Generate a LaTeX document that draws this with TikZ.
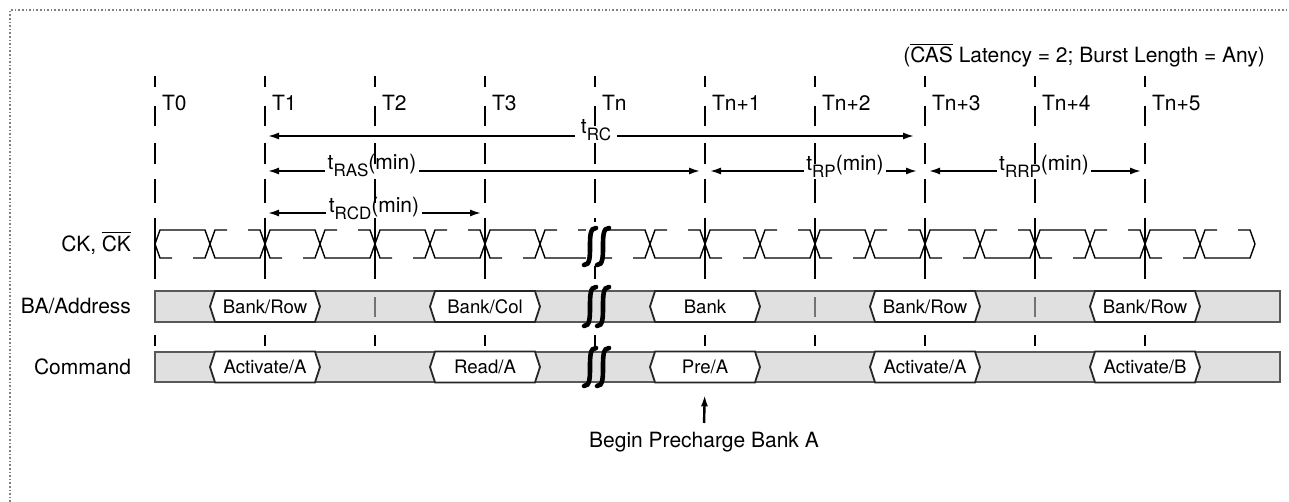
\documentclass[tikz,border=0pt]{standalone}
\usepackage{fontspec}
\setmainfont{TeX Gyre Heros}
\usetikzlibrary{arrows.meta}
\usetikzlibrary{shapes.symbols}
\usetikzlibrary{calc}
\tikzset{l/.style={font=\fontsize{10.5}{12}\selectfont}}
\tikzset{m/.style={font=\fontsize{9.3}{10}\selectfont}}
\tikzset{tick/.style={line width=0.8pt}}
\tikzset{wave/.style={line width=0.7pt}}
\tikzset{dim/.style={line width=1.2pt}}
\tikzset{dimlbl/.style={l,inner sep=1pt}}
\tikzset{row/.style={fill=black!12,draw=black!65,line width=1pt}}
\tikzset{bus/.style={m,shape=signal,signal to=west and east,signal pointer angle=144,
  draw=black!85,fill=white,line width=0.9pt,minimum width=55pt,minimum height=15.5pt,inner sep=0pt}}
\tikzset{squig/.style={line width=2.3pt,line cap=round}}
\newcommand{\ovl}[1]{$\overline{\mbox{#1}}$}
\newcommand{\tsub}[1]{t\raisebox{-3.5pt}{\fontsize{8.5}{9}\selectfont #1}}
\newcommand{\brk}[3]{\draw[squig] (#1+6,#2) .. controls (#1-6,#2-1) and (#1+6,#3+1) .. (#1-6,#3);}

\begin{document}
\begin{tikzpicture}[x=0.5pt,y=-0.5pt,>={Latex[length=6pt,width=3.5pt]}]
  \useasboundingbox (0,0) rectangle (1289,502);
  \draw[gray,densely dotted,line width=0.8pt] (10,502) -- (10,10) -- (1289,10);

  % signal rows
  \draw[row] (155,291) rectangle (1280,322);
  \draw[row] (155,352) rectangle (1280,382);

  % clock edges
  \foreach \t [count=\i from 0] in {T0,T1,T2,T3,Tn,Tn+1,Tn+2,Tn+3,Tn+4,Tn+5}{
    \node[l,anchor=west] (t\i) at (155+110*\i,103) {\t};
    \foreach \a/\b in {76/87,106/126,143/164,179/203,218/279,335/346}
      \draw[tick] (155+110*\i,\a) -- (155+110*\i,\b);
  }
  \foreach \x in {375,815,1035}
    \draw[tick,black!55] (\x,297) -- (\x,317);

  % CK and /CK
  \draw[wave] (155,244) -- (160,230)
    \foreach \k in {0,...,8}{ -- (205+110*\k,230) -- (215+110*\k,258)
      -- (260+110*\k,258) -- (270+110*\k,230) }
    -- (1195,230) -- (1205,258) -- (1250,258) -- (1255,244);
  \draw[wave] (155,244) -- (160,258) -- (172,258);
  \draw[wave] (1238,230) -- (1250,230) -- (1255,244);
  \foreach \c in {210,320,...,1200}
    \draw[wave] (\c-17,258) -- (\c-5,258) -- (\c+5,230) -- (\c+17,230);
  \foreach \c in {265,375,...,1145}
    \draw[wave] (\c-17,230) -- (\c-5,230) -- (\c+5,258) -- (\c+17,258);

  % bus values
  \foreach \n/\x/\a/\c in {1/265/{Bank/Row}/{Activate/A},2/485/{Bank/Col}/{Read/A},
      3/705/{Bank}/{Pre/A},4/925/{Bank/Row}/{Activate/A},5/1145/{Bank/Row}/{Activate/B}}{
    \node[bus] (ba\n) at (\x,306.5) {\a};
    \node[bus] (cm\n) at (\x,367) {\c};
  }

  % break
  \fill[white] (586,222) rectangle (604,266);
  \foreach \x in {590,603}{
    \brk{\x}{228}{265}
    \brk{\x}{287}{326}
    \brk{\x}{348}{386}
  }

  % row labels
  \node[l,anchor=east] (ck) at (138,243) {CK, \ovl{CK}};
  \node[l,anchor=east] (ba) at (138,306) {BA/Address};
  \node[l,anchor=east] (cmd) at (138,367) {Command};
  \node[l,anchor=east] (hdr) at (1272,55) {(\ovl{CAS} Latency = 2; Burst Length = Any)};

  % timing
  \coordinate (rcA) at (267,136);
  \coordinate (rcB) at (915,136);
  \node[dimlbl,inner xsep=3pt] (rc) at (596,130) {\tsub{RC}};
  \draw[dim,<-] (rcA) -- (rcA -| rc.west);
  \draw[dim,->] (rcB -| rc.east) -- (rcB);

  \coordinate (rasA) at (267,171);
  \coordinate (rasB) at (701,171);
  \node[dimlbl] (ras) at (372,166) {\tsub{RAS}(min)};
  \draw[dim,<-] (rasA) -- (rasA -| ras.west);
  \draw[dim,->] (rasB -| ras.east) -- (rasB);

  \coordinate (rpA) at (709,171);
  \coordinate (rpB) at (918,171);
  \node[dimlbl] (rp) at (845,166) {\tsub{RP}(min)};
  \draw[dim,<-] (rpA) -- (rpA -| rp.west);
  \draw[dim,->] (rpB -| rp.east) -- (rpB);

  \coordinate (rrpA) at (928,171);
  \coordinate (rrpB) at (1142,171);
  \node[dimlbl] (rrp) at (1044,166) {\tsub{RRP}(min)};
  \draw[dim,<-] (rrpA) -- (rrpA -| rrp.west);
  \draw[dim,->] (rrpB -| rrp.east) -- (rrpB);

  \coordinate (rcdA) at (267,213);
  \coordinate (rcdB) at (482,213);
  \node[dimlbl] (rcd) at (374,208) {\tsub{RCD}(min)};
  \draw[dim,<-] (rcdA) -- (rcdA -| rcd.west);
  \draw[dim,->] (rcdB -| rcd.east) -- (rcdB);

  % precharge note
  \node[l] (bp) at (704,442) {Begin Precharge Bank A};
  \draw[dim,->,shorten <=1pt,shorten >=5.5pt] (bp.north) -- (cm3.south);
\end{tikzpicture}
\end{document}
